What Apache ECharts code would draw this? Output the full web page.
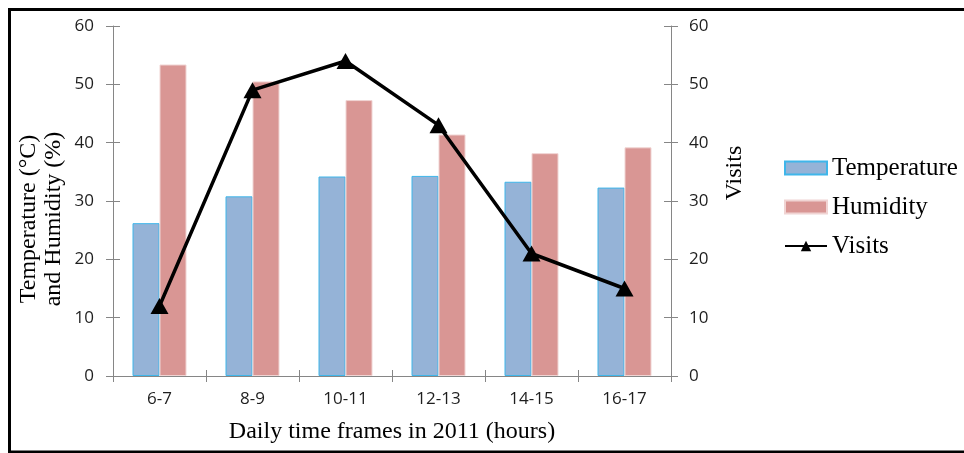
<!DOCTYPE html>
<html>
<head>
<meta charset="utf-8">
<script src="https://cdn.jsdelivr.net/npm/echarts@6/dist/echarts.min.js"></script>
<style>
  html, body { margin: 0; padding: 0; background: #fff; }
  #chart { width: 964px; height: 453px; }
</style>
</head>
<body>
<div id="chart"></div>
<script>
// Hourly time frames
const timeFrames = ['6-7', '8-9', '10-11', '12-13', '14-15', '16-17'];
// Mean temperature (°C) per time frame
const temperature = [26.2, 30.8, 34.2, 34.3, 33.3, 32.3];
// Mean relative humidity (%) per time frame
const humidity = [53.4, 50.5, 47.3, 41.4, 38.2, 39.2];
// Number of visits per time frame
const visits = [12, 49, 54, 43, 21, 15];

const serif = '"Liberation Serif", "Times New Roman", serif';
const sans = '"Open Sans", sans-serif';
const axisGray = '#868686';
const labelColor = '#1e1e1e';

const chart = echarts.init(document.getElementById('chart'), null, { renderer: 'canvas' });

const valueAxisBase = {
  type: 'value', min: 0, max: 60, interval: 10,
  splitLine: { show: false }
};

chart.setOption({
  backgroundColor: '#fff',
  animation: false,
  grid: { left: 113, right: 293, top: 26, bottom: 77, containLabel: false },
  legend: {
    orient: 'vertical',
    left: 784, top: 155, padding: 0,
    itemWidth: 42, itemHeight: 13, itemGap: 13,
    textStyle: { fontFamily: serif, fontSize: 25, color: '#000', lineHeight: 26 },
    data: [
      { name: 'Temperature', icon: 'rect' },
      { name: 'Humidity', icon: 'rect' },
      { name: 'Visits' }
    ]
  },
  xAxis: [{
    type: 'category', data: timeFrames,
    axisLine: { lineStyle: { color: axisGray, width: 1 } },
    axisTick: { show: true, length: 6, lineStyle: { color: axisGray } },
    axisLabel: { fontFamily: sans, fontSize: 17, color: labelColor, margin: 15 },
    name: 'Daily time frames in 2011 (hours)',
    nameLocation: 'middle', nameGap: 44,
    nameTextStyle: { fontFamily: serif, fontSize: 24, color: '#000' }
  }, {
    // inward half of the crossing ticks
    type: 'category', data: timeFrames, position: 'bottom',
    axisLine: { show: false },
    axisTick: { show: true, inside: true, length: 6, lineStyle: { color: axisGray } },
    axisLabel: { show: false }
  }],
  yAxis: [Object.assign({}, valueAxisBase, {
    position: 'left',
    axisLine: { show: true, lineStyle: { color: axisGray } },
    axisTick: { show: true, length: 7, lineStyle: { color: axisGray } },
    axisLabel: { fontFamily: sans, fontSize: 17, color: labelColor, margin: 19 }
  }), Object.assign({}, valueAxisBase, {
    position: 'right',
    axisLine: { show: true, lineStyle: { color: axisGray } },
    axisTick: { show: true, length: 7, lineStyle: { color: axisGray } },
    axisLabel: { fontFamily: sans, fontSize: 17, color: labelColor, margin: 18 }
  }), Object.assign({}, valueAxisBase, {
    position: 'left',
    axisLine: { show: false },
    axisTick: { show: true, inside: true, length: 7, lineStyle: { color: axisGray } },
    axisLabel: { show: false }
  }), Object.assign({}, valueAxisBase, {
    position: 'right',
    axisLine: { show: false },
    axisTick: { show: true, inside: true, length: 7, lineStyle: { color: axisGray } },
    axisLabel: { show: false }
  })],
  series: [{
    name: 'Temperature', type: 'bar', data: temperature,
    barWidth: 27, barGap: '0%',
    itemStyle: { color: '#95B3D7', borderColor: '#3FB6EA', borderWidth: 1 }
  }, {
    name: 'Humidity', type: 'bar', data: humidity,
    barWidth: 27, barGap: '0%',
    itemStyle: { color: '#D99694', borderColor: '#F0D4D3', borderWidth: 1 }
  }, {
    name: 'Visits', type: 'line', yAxisIndex: 1, data: visits,
    symbol: 'triangle', symbolSize: [18, 16], showAllSymbol: true,
    lineStyle: { color: '#000', width: 3.5 },
    itemStyle: { color: '#000' }
  }],
  graphic: [{
    type: 'rect', silent: true,
    shape: { x: 9.5, y: 9.5, width: 962, height: 442.5 },
    style: { fill: 'none', stroke: '#000', lineWidth: 3 }
  }, {
    type: 'text', x: 29, y: 219, rotation: Math.PI / 2,
    style: { text: 'Temperature (°C)', font: '24px ' + serif, fill: '#000', align: 'center', verticalAlign: 'middle' }
  }, {
    type: 'text', x: 54, y: 219, rotation: Math.PI / 2,
    style: { text: 'and Humidity (%)', font: '24px ' + serif, fill: '#000', align: 'center', verticalAlign: 'middle' }
  }, {
    type: 'text', x: 735, y: 173, rotation: Math.PI / 2,
    style: { text: 'Visits', font: '24px ' + serif, fill: '#000', align: 'center', verticalAlign: 'middle' }
  }]
});
</script>
</body>
</html>
